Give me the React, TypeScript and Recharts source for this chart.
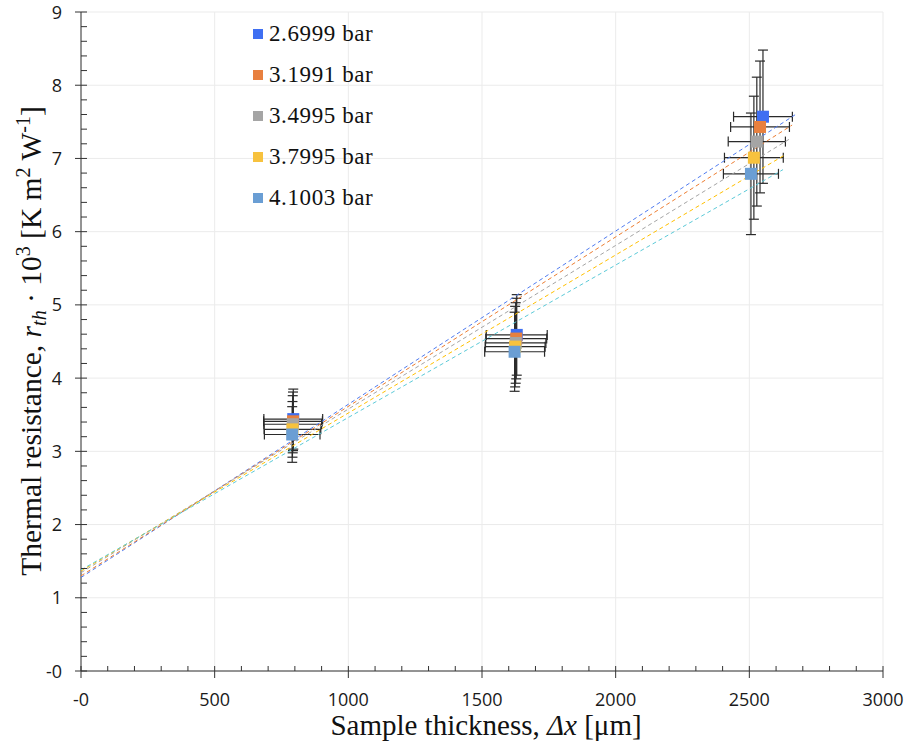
import { CartesianGrid, ErrorBar, Legend, Scatter, ScatterChart, XAxis, YAxis } from 'recharts'

// pressures of the five series
const pressures = ['2.6999 bar', '3.1991 bar', '3.4995 bar', '3.7995 bar', '4.1003 bar']
const markerColors = ['#3F6FF2', '#E8803F', '#A5A5A5', '#F7C23E', '#6A9ED4']
const trendColors = ['#4F7BF0', '#ED7D31', '#A5A5A5', '#FFC000', '#5CCAD8']

// sample thickness [um] per series (three samples)
const thickness1 = [794, 1630, 2551]
const thickness2 = [793, 1628, 2540]
const thickness3 = [792, 1626, 2528]
const thickness4 = [791, 1624, 2517]
const thickness5 = [790, 1622, 2506]

// thermal resistance (x 10^3) per series
const resistance1 = [3.44, 4.59, 7.57]
const resistance2 = [3.41, 4.54, 7.43]
const resistance3 = [3.37, 4.48, 7.23]
const resistance4 = [3.3, 4.43, 7.01]
const resistance5 = [3.23, 4.36, 6.79]

// error bars
const thicknessErr1 = [110, 114, 110]
const thicknessErr2 = [110, 114, 110]
const thicknessErr3 = [108, 113, 107]
const thicknessErr4 = [106, 112, 110]
const thicknessErr5 = [104, 112, 103]
const resistanceErr1 = [0.41, 0.55, 0.91]
const resistanceErr2 = [0.4, 0.55, 0.9]
const resistanceErr3 = [0.39, 0.55, 0.88]
const resistanceErr4 = [0.38, 0.55, 0.84]
const resistanceErr5 = [0.38, 0.54, 0.83]

const thicknesses = [thickness1, thickness2, thickness3, thickness4, thickness5]
const resistances = [resistance1, resistance2, resistance3, resistance4, resistance5]
const thicknessErrs = [thicknessErr1, thicknessErr2, thicknessErr3, thicknessErr4, thicknessErr5]
const resistanceErrs = [resistanceErr1, resistanceErr2, resistanceErr3, resistanceErr4, resistanceErr5]

const xTicks = Array.from({ length: 31 }, (_, i) => i * 100)
const yTicks = Array.from({ length: 46 }, (_, i) => Math.round(i * 2) / 10)
const xMajor = [0, 500, 1000, 1500, 2000, 2500, 3000]
const yMajor = [0, 1, 2, 3, 4, 5, 6, 7, 8, 9]

const series = pressures.map((name, s) => ({
  name,
  points: thicknesses[s].map((x, i) => ({
    x,
    y: resistances[s][i],
    xErr: thicknessErrs[s][i],
    yErr: resistanceErrs[s][i],
  })),
}))

// linear (excel style) trendline from 0 to a little past the last sample
const trendOf = (xs: number[], ys: number[]) => {
  const n = xs.length
  const mx = xs.reduce((a, b) => a + b, 0) / n
  const my = ys.reduce((a, b) => a + b, 0) / n
  let sxy = 0
  let sxx = 0
  xs.forEach((x, i) => {
    sxy += (x - mx) * (ys[i] - my)
    sxx += (x - mx) * (x - mx)
  })
  const slope = sxy / sxx
  const icpt = my - slope * mx
  const end = xs[n - 1] + 120
  return [
    { x: 0, y: icpt },
    { x: end, y: icpt + slope * end },
  ]
}
const trends = series.map((_, s) => trendOf(thicknesses[s], resistances[s]))

const tickFont = { fontFamily: '"Open Sans", sans-serif', fontSize: 18, fill: '#1a1a1a' }
const serif = '"Liberation Serif", "Times New Roman", serif'

const XTick = (props: any) => {
  const { x, y, payload } = props
  const v = payload.value
  const major = v % 500 === 0
  return (
    <g>
      <line x1={x} x2={x} y1={y - 5} y2={major ? y + 7 : y} stroke="#333" strokeWidth={1} />
      {major && (
        <text x={x} y={y + 35} textAnchor="middle" {...tickFont}>
          {v === 0 ? '-0' : v}
        </text>
      )}
    </g>
  )
}

const YTick = (props: any) => {
  const { x, y, payload } = props
  const v = payload.value
  const major = Math.abs(v - Math.round(v)) < 1e-6
  return (
    <g>
      <line x1={major ? x - 6 : x} x2={x + 6} y1={y} y2={y} stroke="#333" strokeWidth={1} />
      {major && (
        <text x={x - 19} y={y + 6.5} textAnchor="end" {...tickFont}>
          {v === 0 ? '-0' : Math.round(v)}
        </text>
      )}
    </g>
  )
}

const YTitle = () => (
  <text
    x={41}
    y={341}
    transform="rotate(-90, 41, 341)"
    textAnchor="middle"
    fontFamily={serif}
    fontSize={29.5}
    fill="#111"
  >
    {'Thermal resistance, '}
    <tspan fontStyle="italic">r</tspan>
    <tspan fontStyle="italic" fontSize={20} dy={5}>th</tspan>
    <tspan dy={-5}>{' · 10'}</tspan>
    <tspan fontSize={20} dy={-11}>3</tspan>
    <tspan dy={11}>{' [K m'}</tspan>
    <tspan fontSize={20} dy={-11}>2</tspan>
    <tspan dy={11}>{' W'}</tspan>
    <tspan fontSize={20} dy={-11}>-1</tspan>
    <tspan dy={11}>]</tspan>
  </text>
)

const XTitle = () => (
  <text x={486} y={735} textAnchor="middle" fontFamily={serif} fontSize={29} fill="#111">
    {'Sample thickness, '}
    <tspan fontStyle="italic">Δx</tspan>
    {' [μm]'}
  </text>
)

const Square = (color: string) => (props: any) => {
  const { cx, cy } = props
  return <rect x={cx - 6} y={cy - 6} width={12} height={12} fill={color} />
}

const LegendBox = () => (
  <div style={{ fontFamily: serif, fontSize: 23, letterSpacing: 0.6, color: '#111' }}>
    {pressures.map((p, i) => (
      <div key={p} style={{ display: 'flex', alignItems: 'center', height: 41 }}>
        <span style={{ width: 10, height: 10, background: markerColors[i], marginRight: 6 }} />
        <span>{p}</span>
      </div>
    ))}
  </div>
)

export default function App() {
  return (
    <div style={{ position: 'absolute', left: 0, top: 0 }}>
      <ScatterChart width={909} height={754} margin={{ top: 12, right: 26, left: 0, bottom: 0 }}>
        <CartesianGrid stroke="#ebebeb" horizontalValues={yMajor} verticalValues={xMajor} />
        <XAxis
          type="number"
          dataKey="x"
          domain={[0, 3000]}
          ticks={xTicks}
          interval={0}
          height={83}
          tickSize={0}
          tickMargin={0}
          tickLine={false}
          axisLine={{ stroke: '#333' }}
          tick={<XTick />}
          label={<XTitle />}
        />
        <YAxis
          type="number"
          dataKey="y"
          domain={[0, 9]}
          ticks={yTicks}
          interval={0}
          width={81}
          tickSize={0}
          tickMargin={0}
          tickLine={false}
          axisLine={{ stroke: '#333' }}
          tick={<YTick />}
          label={<YTitle />}
        />
        <Legend
          layout="vertical"
          verticalAlign="middle"
          align="center"
          content={<LegendBox />}
          wrapperStyle={{ position: 'absolute', left: 253, top: 13, width: 150 }}
        />
        {trends.map((t, i) => (
          <Scatter
            key={'trend' + i}
            data={t}
            line={{ stroke: trendColors[i], strokeWidth: 1, strokeDasharray: '4 3' }}
            shape={() => <g />}
            legendType="none"
            isAnimationActive={false}
          />
        ))}
        {series.map((s, i) => (
          <Scatter
            key={s.name}
            name={s.name}
            data={s.points}
            shape={Square(markerColors[i])}
            isAnimationActive={false}
          >
            <ErrorBar dataKey="xErr" direction="x" width={5} stroke="#2a2a2a" strokeWidth={1.2} />
            <ErrorBar dataKey="yErr" direction="y" width={5} stroke="#2a2a2a" strokeWidth={1.2} />
          </Scatter>
        ))}
      </ScatterChart>
    </div>
  )
}
